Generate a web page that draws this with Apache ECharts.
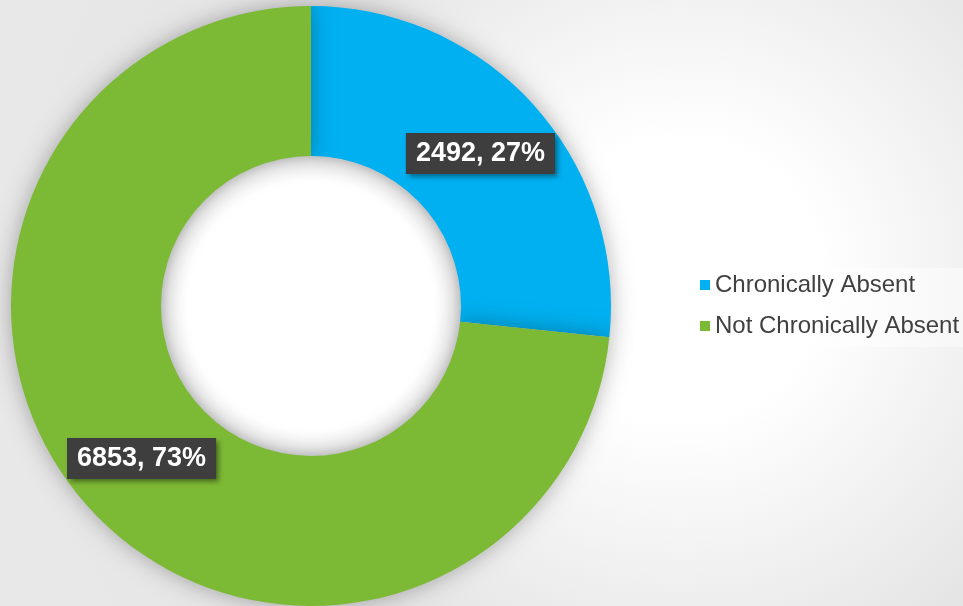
<!DOCTYPE html>
<html>
<head>
<meta charset="utf-8">
<script src="https://cdn.jsdelivr.net/npm/echarts@6/dist/echarts.min.js"></script>
<style>
  html, body { margin: 0; padding: 0; }
  #chart {
    width: 963px; height: 606px;
    background: radial-gradient(circle at 680px 280px, #ffffff 0px, #ffffff 140px, #e4e4e4 430px, #e8e8e8 720px);
  }
</style>
</head>
<body>
<div id="chart"></div>
<script>
const categories = ['Chronically Absent', 'Not Chronically Absent'];
const values = [2492, 6853];
const colors = ['#00b0f0', '#7cb934'];

const chart = echarts.init(document.getElementById('chart'), null, { renderer: 'canvas' });
chart.setOption({
  backgroundColor: 'transparent',
  animation: false,
  color: colors,
  legend: {
    orient: 'vertical',
    left: 686,
    top: 268,
    width: 277,
    padding: [5, 20, 9, 14],
    backgroundColor: 'rgba(255,255,255,0.45)',
    icon: 'rect',
    itemWidth: 10,
    itemHeight: 10,
    itemGap: 17,
    itemTextGap: 5,
    textStyle: { fontFamily: 'Arial, "Liberation Sans", sans-serif', fontSize: 24, color: '#404040' },
    data: categories
  },
  series: [{
    type: 'pie',
    name: 'hole',
    silent: true,
    z: 1,
    center: [311, 306],
    radius: [0, 152],
    label: { show: false },
    labelLine: { show: false },
    itemStyle: {
      color: {
        type: 'radial', x: 0.5, y: 0.5, r: 0.5,
        colorStops: [
          { offset: 0, color: '#ffffff' },
          { offset: 0.82, color: '#ffffff' },
          { offset: 0.94, color: '#f3f3f3' },
          { offset: 1, color: '#e2e2e2' }
        ]
      }
    },
    data: [{ name: '', value: 1 }]
  }, {
    type: 'pie',
    z: 2,
    center: [311, 306],
    radius: [150, 300],
    startAngle: 90,
    clockwise: true,
    avoidLabelOverlap: false,
    itemStyle: {
      shadowBlur: 22,
      shadowColor: 'rgba(0,0,0,0.3)'
    },
    label: {
      show: true,
      position: 'inside',
      formatter: p => p.value + ', ' + Math.round(p.percent) + '%',
      color: '#ffffff',
      fontFamily: 'Arial, "Liberation Sans", sans-serif',
      fontWeight: 'bold',
      fontSize: 27,
      lineHeight: 28,
      backgroundColor: '#3e3e3e',
      padding: [7, 10, 6, 10],
      shadowBlur: 5,
      shadowOffsetX: 3,
      shadowOffsetY: 3,
      shadowColor: 'rgba(0,0,0,0.45)'
    },
    labelLine: { show: false },
    emphasis: { disabled: true },
    data: categories.map((c, i) => ({ name: c, value: values[i] }))
  }]
});
</script>
</body>
</html>
